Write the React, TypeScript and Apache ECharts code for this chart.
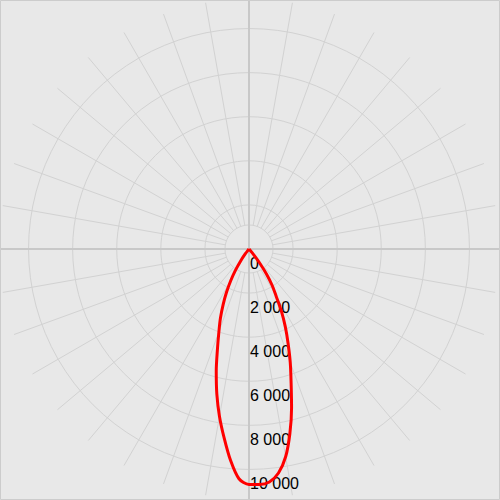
import React, { useEffect, useRef } from "react";
import * as echarts from "echarts";

// Photometric polar diagram data (gamma angle in degrees, 0 = nadir, + = right)
const gammaDeg = [
  -42.5, -40, -37.5, -35, -32.5, -30, -27.5, -25, -22.5, -20, -17.5, -15, -12.5, -10, -7.5, -5, -2.5,
  0, 2.5, 5, 7.5, 10, 12.5, 15, 17.5, 20, 22.5, 25, 27.5, 30, 32.5, 35, 37.5, 40, 42.5,
];
const intensity = [
  0, 50, 270, 660, 1160, 1660, 2210, 2770, 3380, 3990, 4760, 5740, 6740, 7710, 8640, 9620, 10430,
  10680, 10690, 10610, 10250, 9570, 8570, 7460, 6350, 5470, 4630, 3900, 3180, 2450, 1950, 1380, 730, 230, 0,
];
const radialTickStep = 2000;
const radialMax = 11340;

const CX = 249;
const CY = 249;
const LABEL_DY = 14;
const GRID = "#d2d2d2";
const AXIS = "#c8c8c8";

function fmt(v: number): string {
  return String(Math.round(v)).replace(/\B(?=(\d{3})+(?!\d))/g, " ");
}

export default function App() {
  const ref = useRef<HTMLDivElement>(null);
  useEffect(() => {
    if (!ref.current) return;
    const chart = echarts.init(ref.current, undefined, { renderer: "svg" });
    const hiddenRadius = (i: number) => ({
      polarIndex: i,
      type: "value",
      min: 0,
      max: 1,
      show: false,
    });
    const plainAngle = (i: number, extra: any = {}) => ({
      polarIndex: i,
      type: "value",
      min: 0,
      max: 360,
      startAngle: 270,
      axisLine: { show: false },
      axisTick: { show: false },
      axisLabel: { show: false },
      splitLine: { show: false },
      ...extra,
    });
    const nTicks = Math.floor(radialMax / radialTickStep) + 2;
    const splitColors: string[] = [];
    for (let i = 0; i < nTicks; i++) splitColors.push(i < nTicks - 1 ? GRID : "rgba(0,0,0,0)");

    chart.setOption({
      animation: false,
      backgroundColor: "#e8e8e8",
      polar: [
        { center: [CX, CY], radius: [24, 250] },
        { center: [CX, CY], radius: [0, 250] },
        { center: [CX, CY], radius: 24 },
        { center: [CX, CY], radius: 250 },
        { center: [CX, CY + LABEL_DY], radius: 250 },
      ],
      angleAxis: [
        plainAngle(0, {
          interval: 10,
          splitLine: { show: true, lineStyle: { color: GRID, width: 1 } },
        }),
        plainAngle(1, {
          interval: 90,
          z: 2,
          splitLine: { show: true, lineStyle: { color: AXIS, width: 2 } },
        }),
        plainAngle(2, {
          axisLine: { show: true, lineStyle: { color: GRID, width: 1 } },
        }),
        plainAngle(3, { clockwise: false }),
        plainAngle(4),
      ],
      radiusAxis: [
        hiddenRadius(0),
        hiddenRadius(1),
        hiddenRadius(2),
        {
          polarIndex: 3,
          type: "value",
          min: 0,
          max: radialMax,
          interval: radialTickStep,
          axisLine: { show: false },
          axisTick: { show: false },
          axisLabel: { show: false },
          splitLine: { show: true, lineStyle: { color: splitColors, width: 1 } },
        },
        {
          polarIndex: 4,
          type: "value",
          min: 0,
          max: radialMax,
          interval: radialTickStep,
          z: 5,
          axisLine: { show: false },
          axisTick: { show: false },
          splitLine: { show: false },
          axisLabel: {
            show: true,
            margin: 1,
            showMaxLabel: false,
            fontSize: 16,
            color: "#000",
            fontFamily: "Liberation Sans, Arial, sans-serif",
            formatter: (v: number) => fmt(v),
          },
        },
      ],
      graphic: [
        {
          type: "rect",
          shape: { x: 0.5, y: 0.5, width: 499, height: 499 },
          style: { fill: "none", stroke: "#cccccc", lineWidth: 1 },
          silent: true,
          z: 100,
        },
      ],
      series: [
        {
          type: "line",
          coordinateSystem: "polar",
          polarIndex: 3,
          showSymbol: false,
          smooth: 0.3,
          z: 10,
          lineStyle: { color: "#ff0000", width: 3 },
          data: gammaDeg.map((g, i) => [intensity[i], (g + 360) % 360]),
        },
      ],
    });
    return () => chart.dispose();
  }, []);
  return (
    <div
      ref={ref}
      style={{ position: "absolute", left: 0, top: 0, width: 500, height: 500 }}
    />
  );
}
